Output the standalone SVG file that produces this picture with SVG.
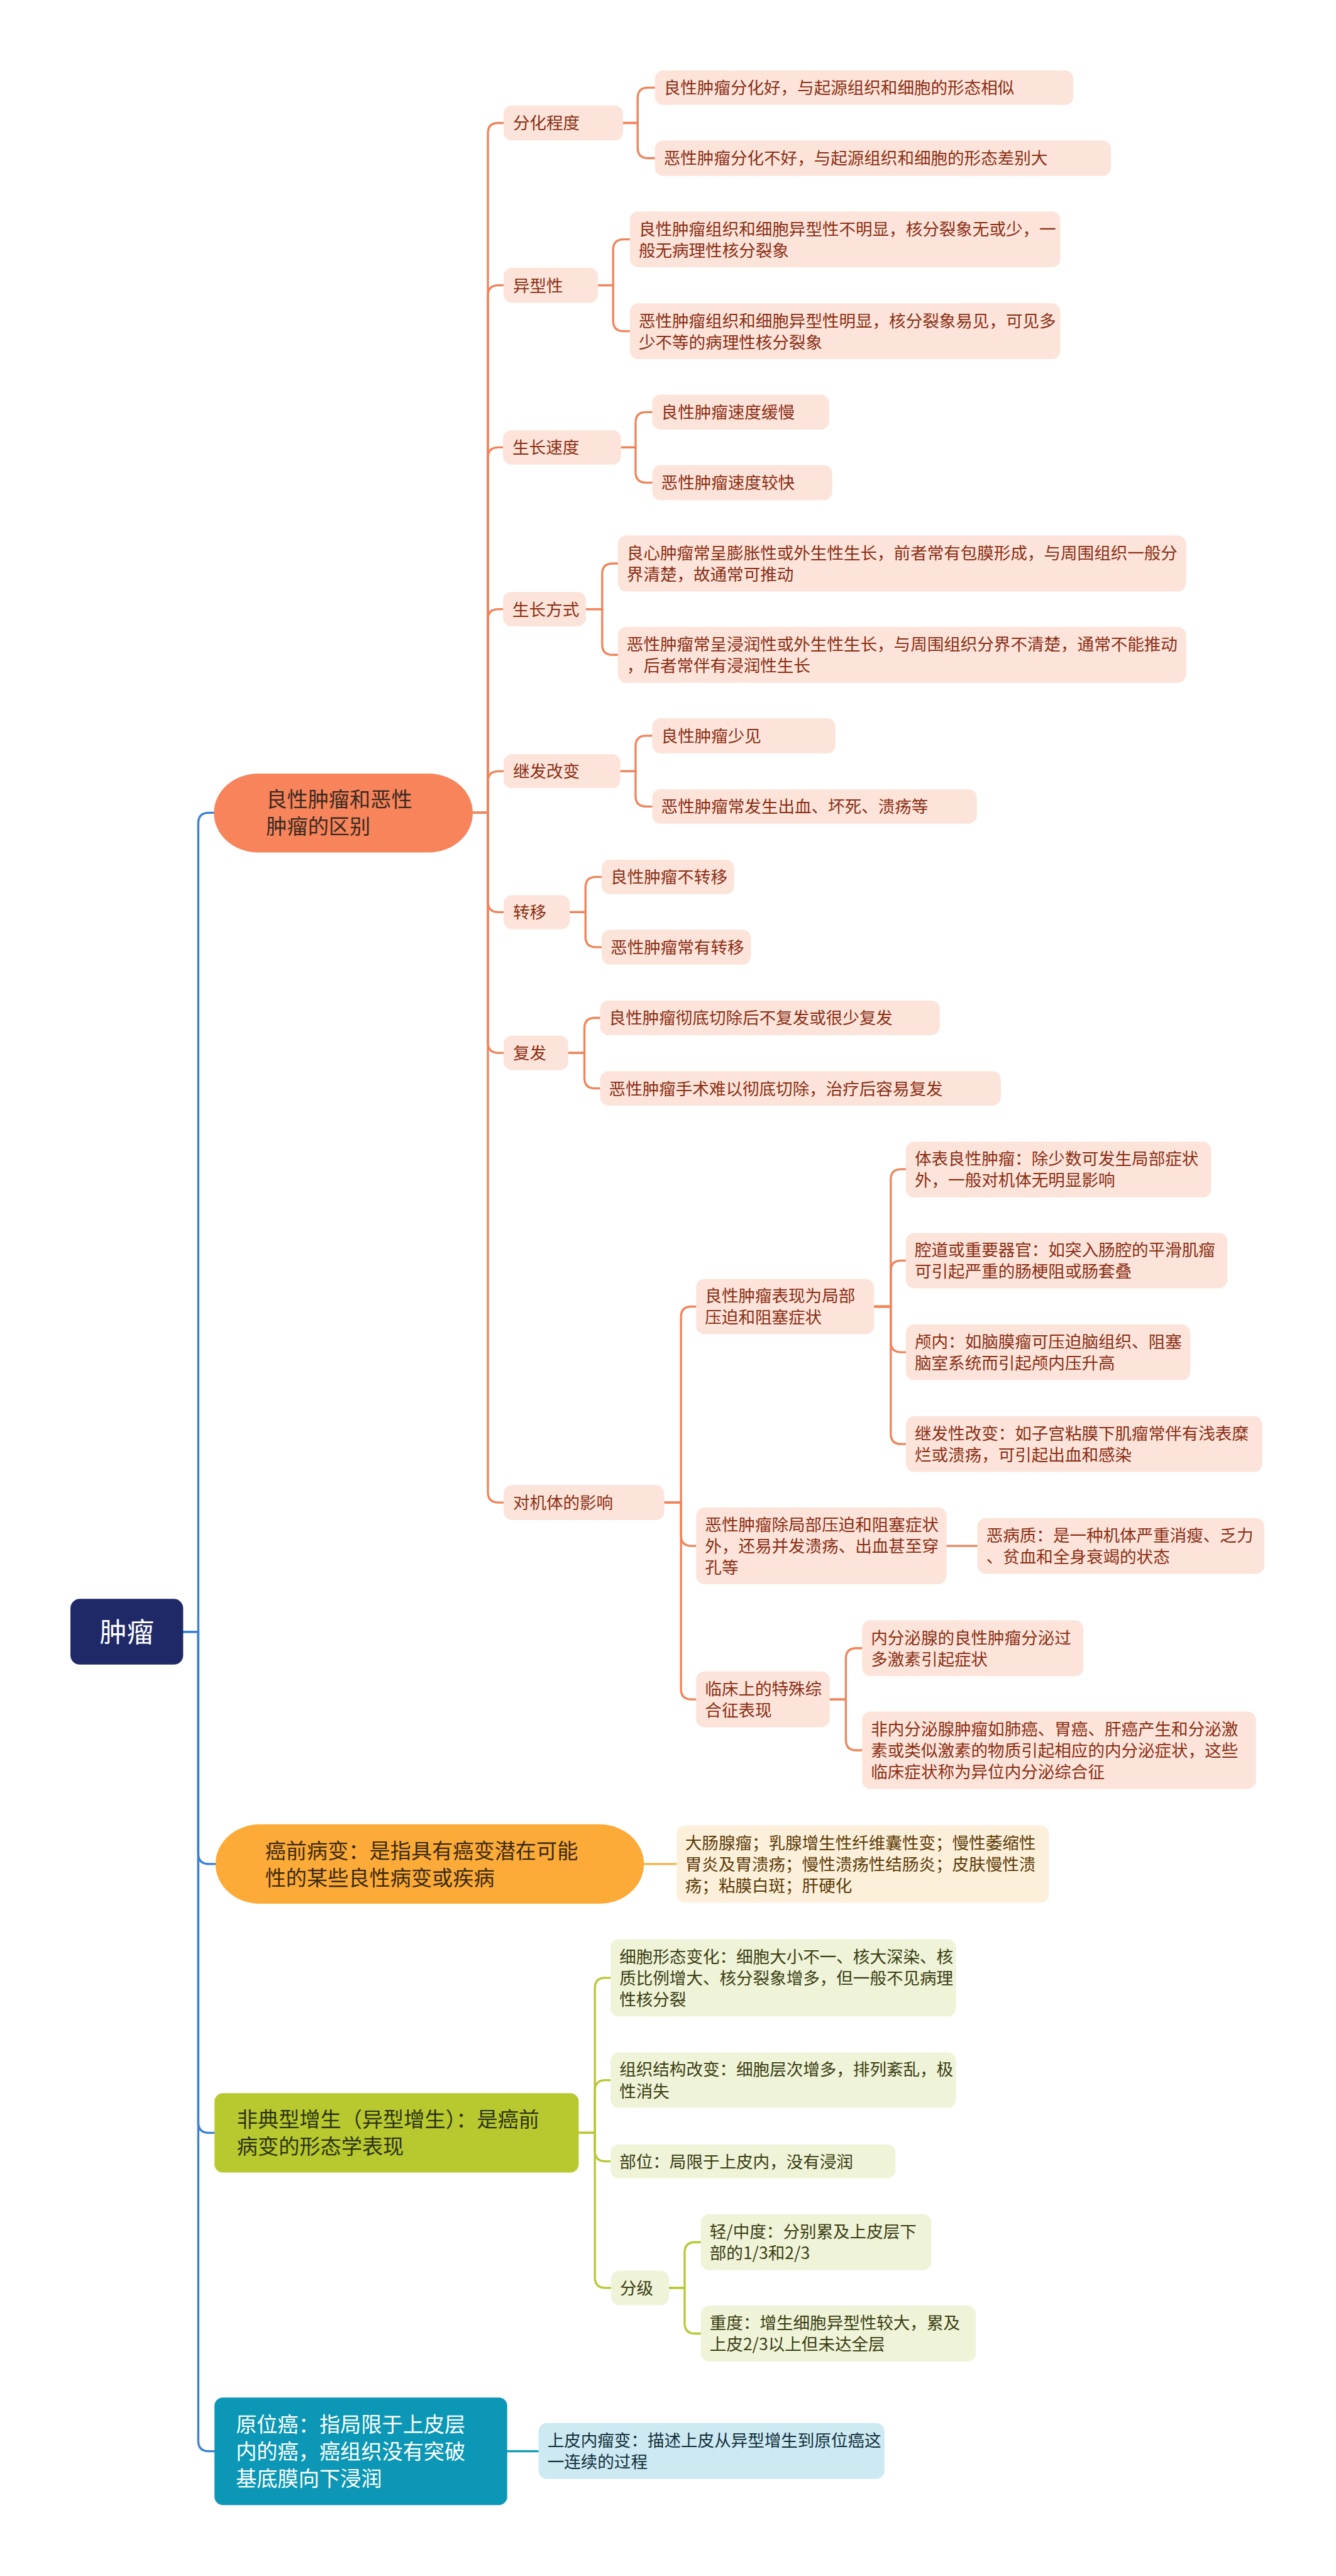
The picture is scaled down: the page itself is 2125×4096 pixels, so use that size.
<svg xmlns="http://www.w3.org/2000/svg" width="2125" height="4096" viewBox="0 0 2125 4096">
<style>
text { font-family: "Noto Sans CJK SC", "Noto Sans", sans-serif; }
.s { font-size: 32px; }
.b { font-size: 40px; }
.ob { fill: #fde4da; }
.ot { fill: #8a2f15; }
.yb { fill: #fdf0da; }
.yt { fill: #5c3b08; }
.gb { fill: #eff3d8; }
.gt { fill: #3a3e12; }
.tb { fill: #cde9f2; }
.tt { fill: #12303c; }
.ln { fill: none; stroke-width: 4; stroke-linecap: round; }
.lo { stroke: #f0845a; }
.ly { stroke: #f7b34a; }
.lg { stroke: #b8c832; }
.lt { stroke: #0e9ab8; }
.lb { stroke: #3a7fd8; }
</style>
<rect width="2125" height="4096" fill="#ffffff"/>
<g transform="scale(0.83)">
<g id="connectors">
<path class="ln lb" d="M351 3126 H380 V1577 Q380 1557 400 1557 H410"/>
<path class="ln lb" d="M351 3126 H380 V3551 Q380 3571 400 3571 H413"/>
<path class="ln lb" d="M351 3126 H380 V4066 Q380 4086 400 4086 H411"/>
<path class="ln lb" d="M351 3126 H380 V4676 Q380 4696 400 4696 H411"/>
<path class="ln lo" d="M906 1557 H935 V255.5 Q935 235.5 955 235.5 H965"/>
<path class="ln lo" d="M906 1557 H935 V566.5 Q935 546.5 955 546.5 H965"/>
<path class="ln lo" d="M906 1557 H935 V877 Q935 857 955 857 H965"/>
<path class="ln lo" d="M906 1557 H935 V1187 Q935 1167 955 1167 H965"/>
<path class="ln lo" d="M906 1557 H935 V1497.5 Q935 1477.5 955 1477.5 H965"/>
<path class="ln lo" d="M906 1557 H935 V1727.5 Q935 1747.5 955 1747.5 H965"/>
<path class="ln lo" d="M906 1557 H935 V1997 Q935 2017 955 2017 H965"/>
<path class="ln lo" d="M906 1557 H935 V2858.5 Q935 2878.5 955 2878.5 H965"/>
<path class="ln lo" d="M1194 235.5 H1222 V188 Q1222 168 1242 168 H1255"/>
<path class="ln lo" d="M1194 235.5 H1222 V283 Q1222 303 1242 303 H1255"/>
<path class="ln lo" d="M1146 546.5 H1175 V478.5 Q1175 458.5 1195 458.5 H1207"/>
<path class="ln lo" d="M1146 546.5 H1175 V614.5 Q1175 634.5 1195 634.5 H1207"/>
<path class="ln lo" d="M1190 857 H1218 V809.5 Q1218 789.5 1238 789.5 H1250"/>
<path class="ln lo" d="M1190 857 H1218 V904.5 Q1218 924.5 1238 924.5 H1250"/>
<path class="ln lo" d="M1123 1167 H1154 V1099.5 Q1154 1079.5 1174 1079.5 H1184"/>
<path class="ln lo" d="M1123 1167 H1154 V1234.5 Q1154 1254.5 1174 1254.5 H1184"/>
<path class="ln lo" d="M1189 1477.5 H1218 V1429.5 Q1218 1409.5 1238 1409.5 H1250"/>
<path class="ln lo" d="M1189 1477.5 H1218 V1525 Q1218 1545 1238 1545 H1250"/>
<path class="ln lo" d="M1092 1747.5 H1122 V1700 Q1122 1680 1142 1680 H1153"/>
<path class="ln lo" d="M1092 1747.5 H1122 V1794.5 Q1122 1814.5 1142 1814.5 H1153"/>
<path class="ln lo" d="M1089 2017 H1120 V1970 Q1120 1950 1140 1950 H1150"/>
<path class="ln lo" d="M1089 2017 H1120 V2065 Q1120 2085 1140 2085 H1150"/>
<path class="ln lo" d="M1273 2878.5 H1305 V2523 Q1305 2503 1325 2503 H1334"/>
<path class="ln lo" d="M1273 2878.5 H1305 V2941.5 Q1305 2961.5 1325 2961.5 H1334"/>
<path class="ln lo" d="M1273 2878.5 H1305 V3235.5 Q1305 3255.5 1325 3255.5 H1334"/>
<path class="ln lo" d="M1675 2503 H1707 V2260 Q1707 2240 1727 2240 H1736"/>
<path class="ln lo" d="M1675 2503 H1707 V2435 Q1707 2415 1727 2415 H1736"/>
<path class="ln lo" d="M1675 2503 H1707 V2570.5 Q1707 2590.5 1727 2590.5 H1736"/>
<path class="ln lo" d="M1675 2503 H1707 V2746.5 Q1707 2766.5 1727 2766.5 H1736"/>
<path class="ln lo" d="M1814 2961.5 H1873"/>
<path class="ln lo" d="M1590 3255.5 H1621 V3177.5 Q1621 3157.5 1641 3157.5 H1652"/>
<path class="ln lo" d="M1590 3255.5 H1621 V3333 Q1621 3353 1641 3353 H1652"/>
<path class="ln ly" d="M1234 3571 H1297"/>
<path class="ln lg" d="M1109 4086 H1140 V3809 Q1140 3789 1160 3789 H1170"/>
<path class="ln lg" d="M1109 4086 H1140 V4005 Q1140 3985 1160 3985 H1170"/>
<path class="ln lg" d="M1109 4086 H1140 V4120.5 Q1140 4140.5 1160 4140.5 H1170"/>
<path class="ln lg" d="M1109 4086 H1140 V4363 Q1140 4383 1160 4383 H1171"/>
<path class="ln lg" d="M1282 4383 H1312 V4315.5 Q1312 4295.5 1332 4295.5 H1343"/>
<path class="ln lg" d="M1282 4383 H1312 V4450.5 Q1312 4470.5 1332 4470.5 H1343"/>
<path class="ln lt" d="M972 4696 H1032"/>
</g>

<g id="root">
<rect x="135" y="3063" width="216" height="126" rx="18" fill="#1f2968"/>
<text x="243" y="3146" text-anchor="middle" font-size="52" fill="#ffffff">肿瘤</text>
</g>

<g id="n-benign-malignant">
<rect x="410" y="1482" width="496" height="151" rx="85" ry="75" fill="#f7845a"/>
<text class="b" x="510" y="1546" fill="#3a2a22"><tspan>良性肿瘤和恶性</tspan><tspan x="510" dy="52">肿瘤的区别</tspan></text>
</g>

<g id="n-fenhua">
<rect class="ob" x="965" y="202" width="229" height="67" rx="16"/>
<text class="s ot" x="983" y="247.5">分化程度</text>
</g>
<g id="n-fenhua-1">
<rect class="ob" x="1255" y="135" width="802" height="66" rx="16"/>
<text class="s ot" x="1272" y="180">良性肿瘤分化好，与起源组织和细胞的形态相似</text>
</g>
<g id="n-fenhua-2">
<rect class="ob" x="1255" y="269" width="874" height="68" rx="16"/>
<text class="s ot" x="1272" y="315">恶性肿瘤分化不好，与起源组织和细胞的形态差别大</text>
</g>

<g id="n-yixing">
<rect class="ob" x="965" y="513" width="181" height="67" rx="16"/>
<text class="s ot" x="983" y="558.5">异型性</text>
</g>
<g id="n-yixing-1">
<rect class="ob" x="1207" y="405" width="825" height="107" rx="16"/>
<text class="s ot" x="1224" y="450"><tspan>良性肿瘤组织和细胞异型性不明显，核分裂象无或少，一</tspan><tspan x="1224" dy="41">般无病理性核分裂象</tspan></text>
</g>
<g id="n-yixing-2">
<rect class="ob" x="1207" y="581" width="825" height="107" rx="16"/>
<text class="s ot" x="1224" y="626"><tspan>恶性肿瘤组织和细胞异型性明显，核分裂象易见，可见多</tspan><tspan x="1224" dy="41">少不等的病理性核分裂象</tspan></text>
</g>

<g id="n-sudu">
<rect class="ob" x="964" y="824" width="226" height="66" rx="16"/>
<text class="s ot" x="982" y="869">生长速度</text>
</g>
<g id="n-sudu-1">
<rect class="ob" x="1250" y="756" width="339" height="67" rx="16"/>
<text class="s ot" x="1267" y="801.5">良性肿瘤速度缓慢</text>
</g>
<g id="n-sudu-2">
<rect class="ob" x="1250" y="891" width="345" height="67" rx="16"/>
<text class="s ot" x="1267" y="936.5">恶性肿瘤速度较快</text>
</g>

<g id="n-fangshi">
<rect class="ob" x="964" y="1134" width="159" height="66" rx="16"/>
<text class="s ot" x="982" y="1179">生长方式</text>
</g>
<g id="n-fangshi-1">
<rect class="ob" x="1184" y="1026" width="1089" height="107" rx="16"/>
<text class="s ot" x="1201" y="1071"><tspan>良心肿瘤常呈膨胀性或外生性生长，前者常有包膜形成，与周围组织一般分</tspan><tspan x="1201" dy="41">界清楚，故通常可推动</tspan></text>
</g>
<g id="n-fangshi-2">
<rect class="ob" x="1184" y="1201" width="1089" height="107" rx="16"/>
<text class="s ot" x="1201" y="1246"><tspan>恶性肿瘤常呈浸润性或外生性生长，与周围组织分界不清楚，通常不能推动</tspan><tspan x="1201" dy="41">，后者常伴有浸润性生长</tspan></text>
</g>

<g id="n-jifa">
<rect class="ob" x="965" y="1445" width="224" height="65" rx="16"/>
<text class="s ot" x="983" y="1489.5">继发改变</text>
</g>
<g id="n-jifa-1">
<rect class="ob" x="1250" y="1376" width="351" height="67" rx="16"/>
<text class="s ot" x="1267" y="1421.5">良性肿瘤少见</text>
</g>
<g id="n-jifa-2">
<rect class="ob" x="1250" y="1512" width="622" height="66" rx="16"/>
<text class="s ot" x="1267" y="1557">恶性肿瘤常发生出血、坏死、溃疡等</text>
</g>

<g id="n-zhuanyi">
<rect class="ob" x="965" y="1715" width="127" height="65" rx="16"/>
<text class="s ot" x="983" y="1759.5">转移</text>
</g>
<g id="n-zhuanyi-1">
<rect class="ob" x="1153" y="1647" width="254" height="66" rx="16"/>
<text class="s ot" x="1170" y="1692">良性肿瘤不转移</text>
</g>
<g id="n-zhuanyi-2">
<rect class="ob" x="1153" y="1781" width="286" height="67" rx="16"/>
<text class="s ot" x="1170" y="1826.5">恶性肿瘤常有转移</text>
</g>

<g id="n-fufa">
<rect class="ob" x="965" y="1984" width="124" height="66" rx="16"/>
<text class="s ot" x="983" y="2029">复发</text>
</g>
<g id="n-fufa-1">
<rect class="ob" x="1150" y="1917" width="651" height="66" rx="16"/>
<text class="s ot" x="1167" y="1962">良性肿瘤彻底切除后不复发或很少复发</text>
</g>
<g id="n-fufa-2">
<rect class="ob" x="1150" y="2052" width="768" height="66" rx="16"/>
<text class="s ot" x="1167" y="2097">恶性肿瘤手术难以彻底切除，治疗后容易复发</text>
</g>

<g id="n-jiti">
<rect class="ob" x="965" y="2845" width="308" height="67" rx="16"/>
<text class="s ot" x="983" y="2890.5">对机体的影响</text>
</g>
<g id="n-jiti-a">
<rect class="ob" x="1334" y="2450" width="341" height="106" rx="16"/>
<text class="s ot" x="1351" y="2494.5"><tspan>良性肿瘤表现为局部</tspan><tspan x="1351" dy="41">压迫和阻塞症状</tspan></text>
</g>
<g id="n-jiti-a1">
<rect class="ob" x="1736" y="2187" width="585" height="107" rx="16"/>
<text class="s ot" x="1753" y="2231.5"><tspan>体表良性肿瘤：除少数可发生局部症状</tspan><tspan x="1753" dy="41">外，一般对机体无明显影响</tspan></text>
</g>
<g id="n-jiti-a2">
<rect class="ob" x="1736" y="2362" width="616" height="106" rx="16"/>
<text class="s ot" x="1753" y="2406.5"><tspan>腔道或重要器官：如突入肠腔的平滑肌瘤</tspan><tspan x="1753" dy="41">可引起严重的肠梗阻或肠套叠</tspan></text>
</g>
<g id="n-jiti-a3">
<rect class="ob" x="1736" y="2537" width="545" height="107" rx="16"/>
<text class="s ot" x="1753" y="2582"><tspan>颅内：如脑膜瘤可压迫脑组织、阻塞</tspan><tspan x="1753" dy="41">脑室系统而引起颅内压升高</tspan></text>
</g>
<g id="n-jiti-a4">
<rect class="ob" x="1736" y="2713" width="683" height="107" rx="16"/>
<text class="s ot" x="1753" y="2758"><tspan>继发性改变：如子宫粘膜下肌瘤常伴有浅表糜</tspan><tspan x="1753" dy="41">烂或溃疡，可引起出血和感染</tspan></text>
</g>
<g id="n-jiti-b">
<rect class="ob" x="1334" y="2888" width="480" height="147" rx="16"/>
<text class="s ot" x="1351" y="2932.5"><tspan>恶性肿瘤除局部压迫和阻塞症状</tspan><tspan x="1351" dy="41">外，还易并发溃疡、出血甚至穿</tspan><tspan x="1351" dy="41">孔等</tspan></text>
</g>
<g id="n-jiti-b1">
<rect class="ob" x="1873" y="2908" width="550" height="107" rx="16"/>
<text class="s ot" x="1890" y="2953"><tspan>恶病质：是一种机体严重消瘦、乏力</tspan><tspan x="1890" dy="41">、贫血和全身衰竭的状态</tspan></text>
</g>
<g id="n-jiti-c">
<rect class="ob" x="1334" y="3202" width="256" height="107" rx="16"/>
<text class="s ot" x="1351" y="3247"><tspan>临床上的特殊综</tspan><tspan x="1351" dy="41">合征表现</tspan></text>
</g>
<g id="n-jiti-c1">
<rect class="ob" x="1652" y="3104" width="424" height="107" rx="16"/>
<text class="s ot" x="1669" y="3149"><tspan>内分泌腺的良性肿瘤分泌过</tspan><tspan x="1669" dy="41">多激素引起症状</tspan></text>
</g>
<g id="n-jiti-c2">
<rect class="ob" x="1652" y="3279" width="755" height="148" rx="16"/>
<text class="s ot" x="1669" y="3324"><tspan>非内分泌腺肿瘤如肺癌、胃癌、肝癌产生和分泌激</tspan><tspan x="1669" dy="41">素或类似激素的物质引起相应的内分泌症状，这些</tspan><tspan x="1669" dy="41">临床症状称为异位内分泌综合征</tspan></text>
</g>

<g id="n-precancer">
<rect x="413" y="3495" width="821" height="152" rx="85" ry="76" fill="#fcab38"/>
<text class="b" x="508" y="3560" fill="#3d2a0e"><tspan>癌前病变：是指具有癌变潜在可能</tspan><tspan x="508" dy="52">性的某些良性病变或疾病</tspan></text>
</g>
<g id="n-precancer-1">
<rect class="yb" x="1297" y="3497" width="713" height="148" rx="16"/>
<text class="s yt" x="1313" y="3542"><tspan>大肠腺瘤；乳腺增生性纤维囊性变；慢性萎缩性</tspan><tspan x="1313" dy="41">胃炎及胃溃疡；慢性溃疡性结肠炎；皮肤慢性溃</tspan><tspan x="1313" dy="41">疡；粘膜白斑；肝硬化</tspan></text>
</g>

<g id="n-atypical">
<rect x="411" y="4010" width="698" height="152" rx="16" fill="#b8c92f"/>
<text class="b" x="454" y="4075" fill="#2d3311"><tspan>非典型增生（异型增生）：是癌前</tspan><tspan x="454" dy="52">病变的形态学表现</tspan></text>
</g>
<g id="n-atypical-1">
<rect class="gb" x="1170" y="3715" width="662" height="148" rx="16"/>
<text class="s gt" x="1187" y="3760"><tspan>细胞形态变化：细胞大小不一、核大深染、核</tspan><tspan x="1187" dy="41">质比例增大、核分裂象增多，但一般不见病理</tspan><tspan x="1187" dy="41">性核分裂</tspan></text>
</g>
<g id="n-atypical-2">
<rect class="gb" x="1170" y="3932" width="662" height="106" rx="16"/>
<text class="s gt" x="1187" y="3976.5"><tspan>组织结构改变：细胞层次增多，排列紊乱，极</tspan><tspan x="1187" dy="41">性消失</tspan></text>
</g>
<g id="n-atypical-3">
<rect class="gb" x="1170" y="4108" width="546" height="65" rx="16"/>
<text class="s gt" x="1187" y="4152.5">部位：局限于上皮内，没有浸润</text>
</g>
<g id="n-atypical-4">
<rect class="gb" x="1171" y="4350" width="111" height="66" rx="16"/>
<text class="s gt" x="1188" y="4395">分级</text>
</g>
<g id="n-grade-1">
<rect class="gb" x="1343" y="4242" width="442" height="107" rx="16"/>
<text class="s gt" x="1360" y="4287"><tspan>轻/中度：分别累及上皮层下</tspan><tspan x="1360" dy="41">部的1/3和2/3</tspan></text>
</g>
<g id="n-grade-2">
<rect class="gb" x="1343" y="4417" width="527" height="107" rx="16"/>
<text class="s gt" x="1360" y="4462"><tspan>重度：增生细胞异型性较大，累及</tspan><tspan x="1360" dy="41">上皮2/3以上但未达全层</tspan></text>
</g>

<g id="n-insitu">
<rect x="411" y="4593" width="561" height="206" rx="16" fill="#0b97b5"/>
<text class="b" x="452" y="4659" fill="#ffffff"><tspan>原位癌：指局限于上皮层</tspan><tspan x="452" dy="52">内的癌，癌组织没有突破</tspan><tspan x="452" dy="52">基底膜向下浸润</tspan></text>
</g>
<g id="n-insitu-1">
<rect class="tb" x="1032" y="4642" width="663" height="107" rx="16"/>
<text class="s tt" x="1049" y="4687"><tspan>上皮内瘤变：描述上皮从异型增生到原位癌这</tspan><tspan x="1049" dy="41">一连续的过程</tspan></text>
</g>
</g>
</svg>
